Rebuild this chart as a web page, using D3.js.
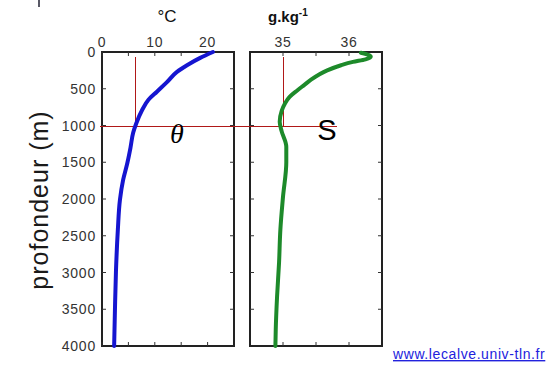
<!DOCTYPE html>
<html>
<head>
<meta charset="utf-8">
<script src="https://cdn.jsdelivr.net/npm/d3@7"></script>
<style>
body{margin:0;background:#fff;}
text{font-family:Arial,"Liberation Sans",sans-serif;}
</style>
</head>
<body>
<div id="chart"></div>
<script>
// temperature profile [depth m, theta °C]
var tempProfile = [[0,21],[80,18.6],[180,16.1],[270,14.2],[410,12.3],[540,10.4],[650,8.8],[790,7.6],[970,6.5],[1100,5.9],[1300,5.4],[1510,4.8],[1740,4.0],[2010,3.4],[2420,3.0],[2970,2.65],[3510,2.45],[4000,2.3]];
// salinity profile [depth m, S g/kg]
var salProfile = [[10,36.18],[60,36.33],[100,36.25],[135,36.06],[180,35.88],[250,35.67],[380,35.42],[450,35.32],[520,35.22],[610,35.10],[700,35.03],[800,34.98],[950,34.95],[1080,34.98],[1290,35.05],[1500,35.05],[1970,35.0],[2420,34.96],[2870,34.94],[3330,34.91],[3780,34.89],[4000,34.885]];
var depthTicks = [0,500,1000,1500,2000,2500,3000,3500,4000];
var tempTicks = [0,5,10,15,20];
var tempLabels = [0,10,20];
var salTicks = [35,35.5,36];
var salLabels = [35,36];
var refDepth = 1000, refTemp = 6.3, refSal = 35;

var svg = d3.select("#chart").append("svg").attr("width",548).attr("height",370);

var y = d3.scaleLinear().domain([0,4000]).range([52,346]);
var xT = d3.scaleLinear().domain([0,25]).range([102,234]);
var xS = d3.scaleLinear().domain([34.5,36.5]).range([250,382]);

// tiny mark top left
svg.append("line").attr("x1",39).attr("x2",39).attr("y1",0).attr("y2",7)
	.attr("stroke","#223").attr("stroke-width",1.5);

function panel(x, ticks, labels, leftLabels){
	var g = svg.append("g");
	g.append("rect").attr("x",x.range()[0]).attr("y",y.range()[0])
		.attr("width",x.range()[1]-x.range()[0]).attr("height",y.range()[1]-y.range()[0])
		.attr("fill","none").attr("stroke","#222").attr("stroke-width",2);
	//ticks inward
	ticks.forEach(function(t){
		g.append("line").attr("x1",x(t)).attr("x2",x(t)).attr("y1",y.range()[0]).attr("y2",y.range()[0]+4).attr("stroke","#333");
		g.append("line").attr("x1",x(t)).attr("x2",x(t)).attr("y1",y.range()[1]).attr("y2",y.range()[1]-4).attr("stroke","#333");
	});
	depthTicks.slice(1,-1).forEach(function(d){
		g.append("line").attr("x1",x.range()[0]).attr("x2",x.range()[0]+4).attr("y1",y(d)).attr("y2",y(d)).attr("stroke","#333");
		g.append("line").attr("x1",x.range()[1]).attr("x2",x.range()[1]-4).attr("y1",y(d)).attr("y2",y(d)).attr("stroke","#333");
	});
	labels.forEach(function(t){
		g.append("text").attr("x",x(t)).attr("y",47).attr("text-anchor","middle")
			.attr("font-size",14).attr("letter-spacing",0.8).attr("fill","#333").text(t);
	});
	if(leftLabels){
		depthTicks.forEach(function(d){
			g.append("text").attr("x",96).attr("y",y(d)+5).attr("text-anchor","end")
				.attr("font-size",14).attr("letter-spacing",0.8).attr("fill","#333").text(d);
		});
	}
	return g;
}

panel(xT, tempTicks, tempLabels, true);
panel(xS, salTicks, salLabels, false);

// red reference lines
var red = "#b01818";
var yr = Math.round(y(refDepth));
svg.append("line").attr("x1",100).attr("x2",337).attr("y1",yr+0.5).attr("y2",yr+0.5).attr("stroke",red).attr("stroke-width",1);
svg.append("line").attr("x1",Math.round(xT(refTemp))+0.5).attr("x2",Math.round(xT(refTemp))+0.5).attr("y1",57).attr("y2",yr).attr("stroke",red).attr("stroke-width",1);
svg.append("line").attr("x1",Math.round(xS(refSal))+0.5).attr("x2",Math.round(xS(refSal))+0.5).attr("y1",57).attr("y2",yr).attr("stroke",red).attr("stroke-width",1);

var lineT = d3.line().x(function(d){return xT(d[1]);}).y(function(d){return y(d[0]);}).curve(d3.curveMonotoneY);
var lineS = d3.line().x(function(d){return xS(d[1]);}).y(function(d){return y(d[0]);}).curve(d3.curveMonotoneY);

svg.append("path").datum(tempProfile).attr("d",lineT).attr("fill","none")
	.attr("stroke","#1515d0").attr("stroke-width",4).attr("stroke-linecap","round");
svg.append("path").datum(salProfile).attr("d",lineS).attr("fill","none")
	.attr("stroke","#1d8a2a").attr("stroke-width",4).attr("stroke-linecap","round");

// symbols
svg.append("text").attr("x",177).attr("y",143).attr("text-anchor","middle")
	.attr("font-size",28).attr("font-style","italic").style("font-family","'Liberation Serif','DejaVu Serif',serif").text("θ");
svg.append("text").attr("x",327).attr("y",140).attr("text-anchor","middle")
	.attr("font-size",29).text("S");

// unit titles
svg.append("text").attr("x",167).attr("y",22).attr("text-anchor","middle").attr("font-size",17).attr("fill","#111").text("°C");
var gk = svg.append("text").attr("x",268).attr("y",22).attr("font-size",15).attr("font-weight","bold").attr("fill","#111");
gk.append("tspan").text("g.kg");
gk.append("tspan").attr("dy",-6).attr("font-size",10).text("-1");

// y label
svg.append("text").attr("transform","translate(48,200) rotate(-90)").attr("text-anchor","middle")
	.attr("font-size",25).attr("letter-spacing",1).attr("fill","#1a1a1a").text("profondeur (m)");

// source
svg.append("text").attr("x",393).attr("y",359).attr("font-size",14).attr("letter-spacing",0.6).attr("fill","#2222dd")
	.attr("text-decoration","underline").text("www.lecalve.univ-tln.fr");
</script>
</body>
</html>
